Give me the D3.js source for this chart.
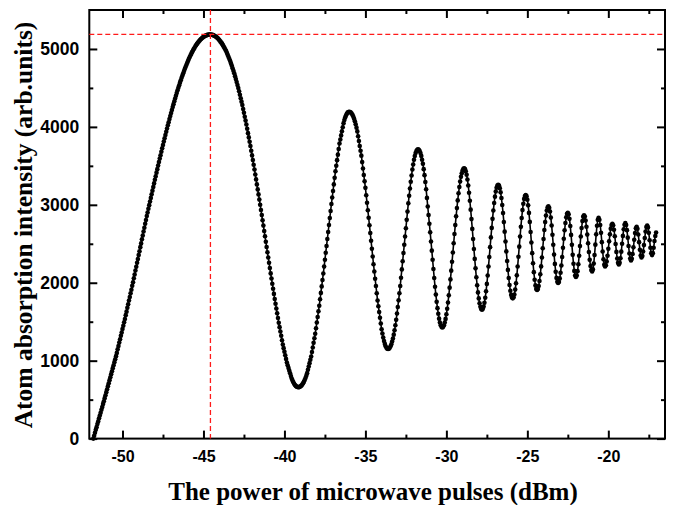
<!DOCTYPE html>
<html>
<head>
<meta charset="utf-8">
<script src="https://cdn.jsdelivr.net/npm/d3@7"></script>
<style>
  body { margin: 0; background: #fff; }
  svg { display: block; }
</style>
</head>
<body>
<script>
// ---------------- data ----------------
const sweepStart = -51.8;   // dBm of first sample
const sweepStep = 0.05;     // dBm between samples
const intensity = [
  // rise to first maximum
  0,36,75,112,147,186,221,260,297,332,
  371,406,445,480,519,556,596,633,673,710,
  750,787,827,864,904,941,981,1018,1058,1100,
  1145,1187,1232,1274,1319,1361,1406,1448,1493,1535,
  1584,1629,1678,1723,1772,1817,1866,1911,1960,2005,
  2057,2105,2157,2205,2257,2305,2357,2405,2457,2505,
  2557,2605,2657,2705,2757,2805,2856,
  2902,2949,2996,3042,3089,3136,3182,3229,3275,3321,
  3367,3413,3458,3503,3548,3593,3637,3681,3725,3768,
  3811,3854,3896,3938,3979,4020,4060,4100,4140,4179,
  4217,4255,4292,4329,4365,4400,4435,4469,4503,4535,
  4568,4599,4630,4660,4689,4718,4745,4772,4798,4824,
  4848,4873,4896,4918,4940,4960,4980,4999,5016,5034,
  5050,5065,5079,5093,5106,5117,5128,5138,5147,5155,
  5162,5168,5173,5177,5181,5183,5185,5185,
  // fall to first minimum
  5185,5183,5181,5177,5173,5167,5160,5152,5143,5134,
  5121,5108,5094,5081,5068,5049,5030,5011,4992,4973,
  4948,4922,4897,4871,4846,4815,4783,4752,4720,4689,
  4651,4613,4576,4538,4500,4456,4412,4368,4324,4280,
  4230,4180,4131,4081,4031,3976,3920,3865,3809,3754,
  3694,3634,3574,3514,3454,3390,3326,3262,3198,3134,
  3067,3001,2934,2868,2801,2733,2664,2596,2527,2459,
  2391,2323,2256,2188,2120,2054,1988,1923,1857,1791,
  1730,1669,1608,1547,1486,1430,1374,1319,1263,1207,
  1161,1115,1069,1023,977,942,907,872,837,802,
  772,746,723,704,688,676,667,662,660,
  // second maximum
  661,664,671,680,693,710,729,751,777,805,840,
  883,926,968,1011,1054,1112,1170,1229,1287,1345,
  1417,1489,1561,1633,1705,1788,1870,1953,2035,2118,
  2207,2295,2384,2472,2561,2651,2741,2830,2920,3010,
  3094,3178,3262,3346,3430,3501,3573,3644,3716,3787,
  3839,3891,3944,3996,4048,4087,4120,4147,4168,4183,
  4192,4195,
  // second minimum
  4192,4185,4172,4155,4132,4104,4071,4033,3990,3942,
  3880,3818,3755,3693,3631,3548,3466,3383,3301,3218,
  3122,3026,2930,2834,2738,2638,2538,2437,2337,2237,
  2144,2051,1959,1866,1773,1699,1625,1551,1477,1403,
  1348,1296,1251,1215,1186,1166,1154,1150,
  // third maximum
  1154,1165,1184,1211,1245,1285,1334,1390,1454,1524,
  1605,1689,1774,1865,1959,2065,2171,2276,2382,2488,
  2594,2700,2807,2913,3019,3117,3209,3296,3377,3454,
  3518,3578,3626,3664,3690,3707,3712,
  // third minimum
  3707,3691,3665,3628,3579,3526,3458,3381,3293,3199,
  3089,2978,2868,2757,2647,2530,2412,2295,2177,2060,
  1949,1848,1755,1674,1602,1539,1490,1455,1434,1427,
  // fourth maximum
  1434,1455,1489,1536,1595,1666,1747,1838,1937,2043,
  2155,2270,2388,2507,2625,2740,2852,2958,3057,3148,
  3229,3300,3359,3406,3440,3461,3468,
  // fourth minimum
  3459,3431,3386,3324,3247,3155,3052,2938,2817,2691,
  2562,2433,2306,2185,2071,1968,1876,1799,1737,1692,
  1664,1655,
  // fifth maximum
  1665,1694,1742,1808,1890,1985,2093,2209,2331,2457,
  2582,2704,2820,2928,3023,3105,3171,3219,3248,3258,
  // fifth minimum
  3247,3214,3160,3087,2998,2894,2778,2656,2529,2402,
  2280,2165,2060,1971,1898,1844,1811,1800,
  // sixth maximum
  1813,1850,1912,1994,2095,2209,2334,2463,2592,2717,
  2831,2932,3014,3076,3113,3126,
  // sixth minimum
  3111,3066,2993,2896,2781,2652,2516,2380,2251,2136,
  2039,1966,1921,1906,
  // seventh maximum
  1919,1959,2023,2108,2210,2324,2443,2562,2676,2778,
  2863,2927,2967,2980,
  // seventh minimum
  2963,2914,2836,2734,2615,2488,2361,2242,2140,2062,
  2013,1996,
  // eighth maximum
  2011,2056,2128,2222,2331,2448,2564,2673,2767,2839,
  2884,2899,
  // eighth minimum
  2879,2820,2729,2614,2486,2358,2243,2152,2093,2073,
  // ninth maximum
  2092,2149,2237,2347,2470,2593,2703,2791,2848,2867,
  // ninth minimum
  2849,2798,2718,2618,2506,2394,2294,2214,2163,2145,
  // tenth maximum
  2171,2246,2357,2489,2621,2732,2807,2833,
  // tenth minimum
  2809,2741,2640,2521,2401,2300,2232,2208,
  // eleventh maximum
  2225,2272,2346,2435,2531,2621,2694,2741,2758,
  // eleventh minimum
  2738,2681,2597,2497,2396,2312,2255,2235,
  // twelfth maximum
  2255,2313,2399,2500,2601,2687,2745,2765,
  // twelfth minimum
  2741,2675,2579,2472,2376,2310,2286,
  // thirteenth maximum
  2307,2368,2454,2551,2637,2698,2719,
  // thirteenth minimum
  2692,2620,2521,2422,2350,2323,
  // fourteenth maximum
  2343,2401,2483,2575,2657,2715,2735,
  // fourteenth minimum
  2710,2640,2545,2450,2380,2355,
  // last rise
  2380,2450,2535,2600,2645
];

const xMajorTicks = [-50, -45, -40, -35, -30, -25, -20];
const xMinorTicks = [-47.5, -42.5, -37.5, -32.5, -27.5, -22.5, -17.5];
const yMajorTicks = [0, 1000, 2000, 3000, 4000, 5000];
const yMinorTicks = [500, 1500, 2500, 3500, 4500];
const markerPower = [-44.57];      // vertical red dashed line
const markerIntensity = [5187];    // horizontal red dashed line

const xTitle = "The power of microwave pulses (dBm)";
const yTitle = "Atom absorption intensity (arb.units)";

// ---------------- layout ----------------
const W = 679, H = 505;
const plotLeft = 89.3, plotRight = 665, plotTop = 10, plotBottom = 438.6;

const svg = d3.select("body").append("svg")
  .attr("width", W).attr("height", H)
  .attr("viewBox", `0 0 ${W} ${H}`);

const x = d3.scaleLinear().domain([-52.05, -16.5]).range([plotLeft, plotRight]);
const y = d3.scaleLinear().domain([0, 5500]).range([plotBottom, plotTop]);

const points = intensity.map((v, i) => ({ p: sweepStart + i * sweepStep, v }));

const sansFont = "'Liberation Sans', Arial, Helvetica, sans-serif";
const serifFont = "'Liberation Serif', 'Times New Roman', Times, serif";

function styleAxis(g, fontSize) {
  g.select(".domain").remove();
  g.selectAll(".tick line").attr("stroke", "#000").attr("stroke-width", 2);
  g.selectAll(".tick text")
    .attr("font-family", sansFont)
    .attr("font-weight", "bold")
    .attr("font-size", fontSize)
    .attr("fill", "#000");
}
const fmt = d => String(d);

// bottom axis (labels)
svg.append("g").attr("transform", `translate(0,${plotBottom})`)
  .call(d3.axisBottom(x).tickValues(xMajorTicks).tickSize(-8).tickSizeOuter(0).tickPadding(12).tickFormat(fmt))
  .call(g => styleAxis(g, 16));
svg.append("g").attr("transform", `translate(0,${plotBottom})`)
  .call(d3.axisBottom(x).tickValues(xMinorTicks).tickSize(-4).tickSizeOuter(0).tickFormat(""))
  .call(g => styleAxis(g, 16));
// top axis (ticks only)
svg.append("g").attr("transform", `translate(0,${plotTop})`)
  .call(d3.axisTop(x).tickValues(xMajorTicks).tickSize(-8).tickSizeOuter(0).tickFormat(""))
  .call(g => styleAxis(g, 16));
svg.append("g").attr("transform", `translate(0,${plotTop})`)
  .call(d3.axisTop(x).tickValues(xMinorTicks).tickSize(-4).tickSizeOuter(0).tickFormat(""))
  .call(g => styleAxis(g, 16));
// left axis (labels)
svg.append("g").attr("transform", `translate(${plotLeft},0)`)
  .call(d3.axisLeft(y).tickValues(yMajorTicks).tickSize(-8).tickSizeOuter(0).tickPadding(10).tickFormat(fmt))
  .call(g => styleAxis(g, 17.5));
svg.append("g").attr("transform", `translate(${plotLeft},0)`)
  .call(d3.axisLeft(y).tickValues(yMinorTicks).tickSize(-4).tickSizeOuter(0).tickFormat(""))
  .call(g => styleAxis(g, 17.5));
// right axis (ticks only)
svg.append("g").attr("transform", `translate(${plotRight},0)`)
  .call(d3.axisRight(y).tickValues(yMajorTicks).tickSize(-8).tickSizeOuter(0).tickFormat(""))
  .call(g => styleAxis(g, 17.5));
svg.append("g").attr("transform", `translate(${plotRight},0)`)
  .call(d3.axisRight(y).tickValues(yMinorTicks).tickSize(-4).tickSizeOuter(0).tickFormat(""))
  .call(g => styleAxis(g, 17.5));

// frame
svg.append("rect")
  .attr("x", plotLeft).attr("y", plotTop)
  .attr("width", plotRight - plotLeft).attr("height", plotBottom - plotTop)
  .attr("fill", "none").attr("stroke", "#000").attr("stroke-width", 2);

// data curve
const line = d3.line().x(d => x(d.p)).y(d => y(d.v));
svg.append("path").datum(points)
  .attr("d", line)
  .attr("fill", "none").attr("stroke", "#000").attr("stroke-width", 1.6);
svg.append("g").selectAll("circle").data(points).join("circle")
  .attr("cx", d => x(d.p)).attr("cy", d => y(d.v)).attr("r", 2.3)
  .attr("fill", "#000");

// red dashed guides
svg.append("g").selectAll("line.h").data(markerIntensity).join("line")
  .attr("x1", plotLeft).attr("x2", plotRight)
  .attr("y1", d => y(d)).attr("y2", d => y(d))
  .attr("stroke", "#ff1a1a").attr("stroke-width", 1.3).attr("stroke-dasharray", "5,3");
svg.append("g").selectAll("line.v").data(markerPower).join("line")
  .attr("x1", d => x(d)).attr("x2", d => x(d))
  .attr("y1", plotTop).attr("y2", plotBottom)
  .attr("stroke", "#ff1a1a").attr("stroke-width", 1.3).attr("stroke-dasharray", "5,3");

// axis titles
svg.append("text")
  .attr("x", 373).attr("y", 500)
  .attr("text-anchor", "middle")
  .attr("font-family", serifFont).attr("font-weight", "bold").attr("font-size", 25)
  .attr("fill", "#000")
  .text(xTitle);
svg.append("text")
  .attr("transform", "translate(31.5,225) rotate(-90)")
  .attr("text-anchor", "middle")
  .attr("font-family", serifFont).attr("font-weight", "bold").attr("font-size", 25.5)
  .attr("fill", "#000")
  .text(yTitle);
</script>
</body>
</html>
